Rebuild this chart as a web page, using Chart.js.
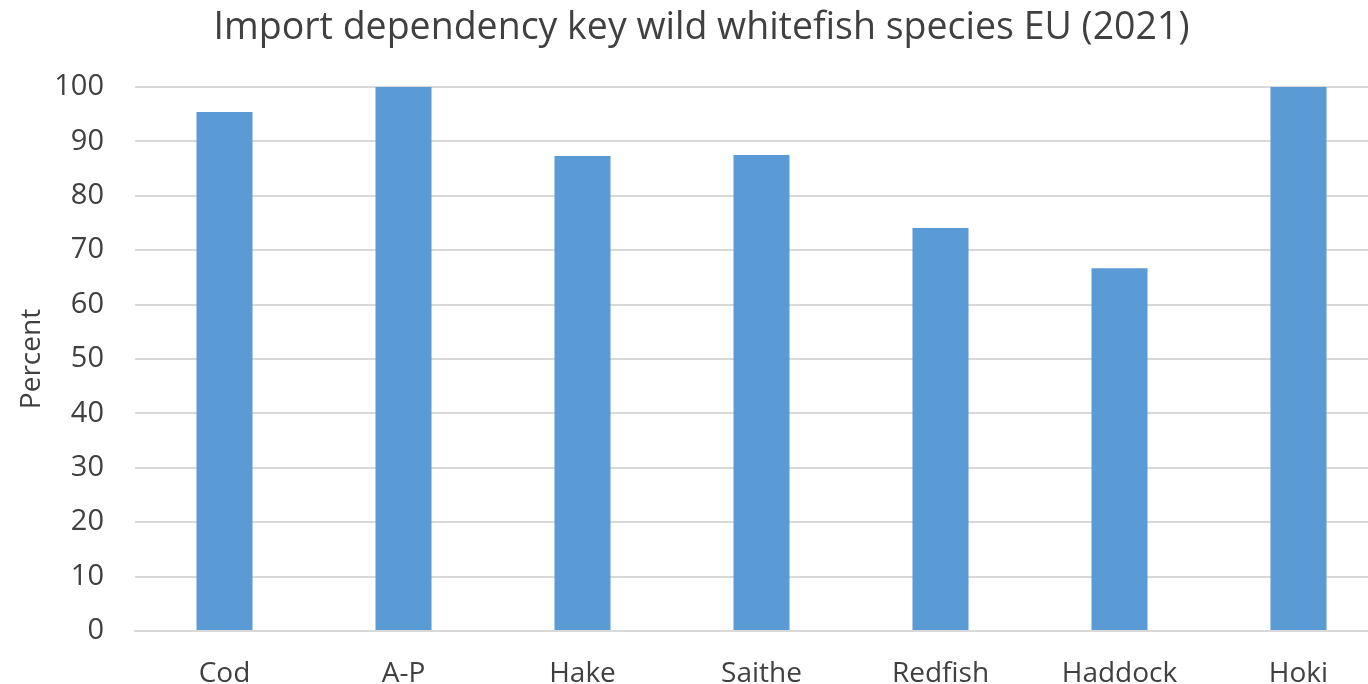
<!DOCTYPE html>
<html>
<head>
<meta charset="utf-8">
<script src="https://cdn.jsdelivr.net/npm/chart.js@4/dist/chart.umd.min.js"></script>
<style>
  html, body { margin: 0; padding: 0; background: #ffffff; overflow: hidden; }
  #wrap { width: 1388px; height: 684px; }
</style>
</head>
<body>
<div id="wrap"><canvas id="chart"></canvas></div>
<script>
// Import dependency (%) per species, EU 2021
const species = ['Cod', 'A-P', 'Hake', 'Saithe', 'Redfish', 'Haddock', 'Hoki'];
const importDependency = [95.4, 100, 87.3, 87.5, 74.1, 66.7, 100];
const yTicks = [0, 10, 20, 30, 40, 50, 60, 70, 80, 90, 100];

const textColor = '#404040';
const gridColor = '#d9d9d9';
const fontFamily = '"Open Sans", "Noto Sans", sans-serif';

new Chart(document.getElementById('chart'), {
  type: 'bar',
  data: {
    labels: species,
    datasets: [{
      label: 'Import dependency',
      data: importDependency,
      backgroundColor: '#5b9bd5',
      borderWidth: 0,
      categoryPercentage: 1,
      barPercentage: 0.313
    }]
  },
  options: {
    responsive: true,
    maintainAspectRatio: false,
    animation: false,
    layout: { padding: { left: 15, right: 0, top: 4, bottom: 0 } },
    plugins: {
      legend: { display: false },
      tooltip: { enabled: false },
      title: {
        display: true,
        text: 'Import dependency key wild whitefish species EU (2021)',
        color: textColor,
        font: { family: fontFamily, size: 37.5, weight: 'normal' },
        padding: { top: 2, bottom: 36 }
      }
    },
    scales: {
      x: {
        grid: { display: false, drawTicks: false },
        border: { display: true, color: gridColor, width: 2 },
        ticks: {
          color: textColor,
          font: { family: fontFamily, size: 28 },
          padding: 26
        },
        // fixed band below the axis for the category labels
        afterFit: (scale) => { scale.height = 53; }
      },
      y: {
        min: 0,
        max: 100,
        afterBuildTicks: (scale) => { scale.ticks = yTicks.map(v => ({ value: v })); },
        grid: { color: gridColor, lineWidth: 2, drawTicks: false },
        border: { display: false },
        ticks: {
          color: textColor,
          font: { family: fontFamily, size: 29 },
          padding: 31
        },
        title: {
          display: true,
          text: 'Percent',
          color: textColor,
          font: { family: fontFamily, size: 28 },
          padding: { top: 0, bottom: 1 }
        },
        // fixed width for the value axis (title + labels + gap)
        afterFit: (scale) => { scale.width = 120; }
      }
    }
  }
});
</script>
</body>
</html>
